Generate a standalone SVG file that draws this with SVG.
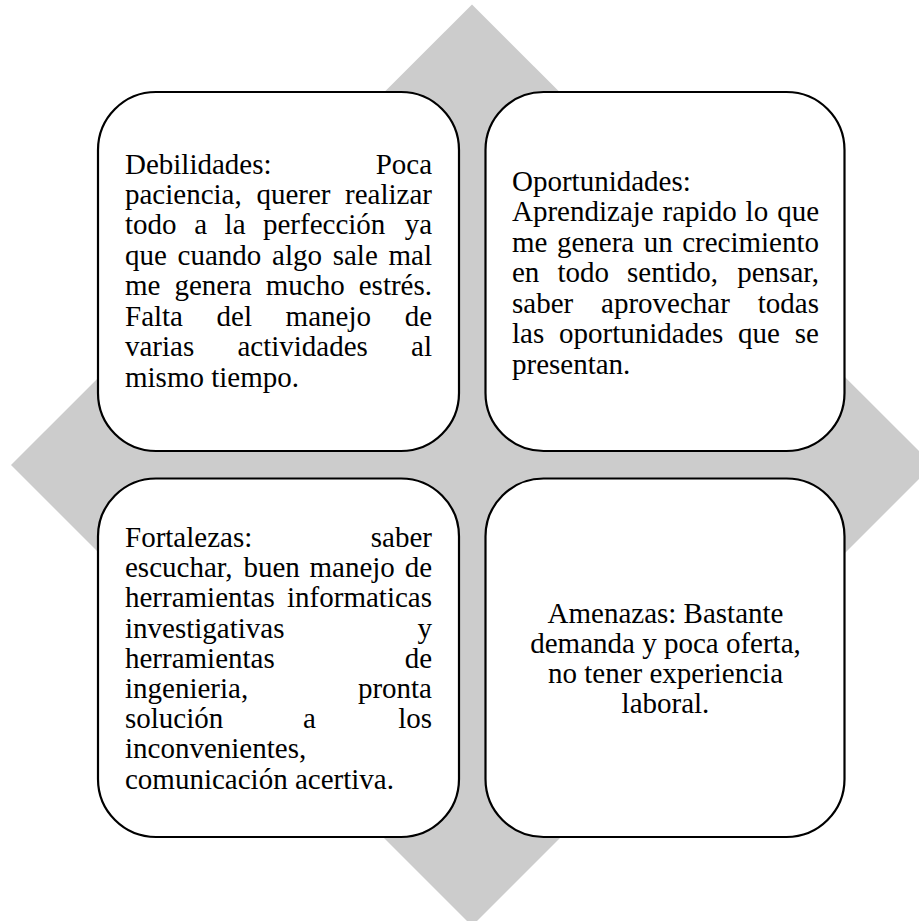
<svg xmlns="http://www.w3.org/2000/svg" width="919" height="921" viewBox="0 0 919 921">
<style>
.bg{fill:#ffffff}
.diamond{fill:#cccccc}
.box{fill:#ffffff;stroke:#000000;stroke-width:2.2}
.t{font-family:"Liberation Serif","Times New Roman",serif;font-size:29px;fill:#000000}
.e{text-anchor:end}
.c{text-anchor:middle}
</style>
<rect class="bg" x="0" y="0" width="919" height="921"/>
<polygon id="background-diamond" class="diamond" points="472,4.5 933,465 472,926 11,465"/>
<g id="connectors"></g>
<g id="debilidades">
<rect class="box" x="98" y="92" width="361" height="359" rx="58" ry="58"/>
<text class="t"><tspan x="125" y="173.5">Debilidades:</tspan><tspan class="e" x="432" y="173.5" text-anchor="end">Poca</tspan></text>
<text class="t"><tspan x="125" y="204">paciencia,</tspan><tspan x="256.4" y="204">querer</tspan><tspan x="432" y="204" text-anchor="end">realizar</tspan></text>
<text class="t"><tspan x="125" y="234.4">todo</tspan><tspan x="194.2" y="234.4">a</tspan><tspan x="224.6" y="234.4">la</tspan><tspan x="263" y="234.4">perfección</tspan><tspan x="432" y="234.4" text-anchor="end">ya</tspan></text>
<text class="t"><tspan x="125" y="264.9">que</tspan><tspan x="177.6" y="264.9">cuando</tspan><tspan x="272.1" y="264.9">algo</tspan><tspan x="332.7" y="264.9">sale</tspan><tspan x="432" y="264.9" text-anchor="end">mal</tspan></text>
<text class="t"><tspan x="125" y="295.3">me</tspan><tspan x="174.4" y="295.3">genera</tspan><tspan x="265.8" y="295.3">mucho</tspan><tspan x="432" y="295.3" text-anchor="end">estrés.</tspan></text>
<text class="t"><tspan x="125" y="325.8">Falta</tspan><tspan x="216.6" y="325.8">del</tspan><tspan x="285.6" y="325.8">manejo</tspan><tspan x="432" y="325.8" text-anchor="end">de</tspan></text>
<text class="t"><tspan x="125" y="356.2">varias</tspan><tspan x="237.4" y="356.2">actividades</tspan><tspan x="432" y="356.2" text-anchor="end">al</tspan></text>
<text class="t" x="125" y="386.7">mismo tiempo.</text>
</g>
<g id="oportunidades">
<rect class="box" x="485.5" y="92" width="359" height="359" rx="58" ry="58"/>
<text class="t" x="512" y="190.5">Oportunidades:</text>
<text class="t"><tspan x="512" y="221">Aprendizaje</tspan><tspan x="662.6" y="221">rapido</tspan><tspan x="745.6" y="221">lo</tspan><tspan x="819" y="221" text-anchor="end">que</tspan></text>
<text class="t"><tspan x="512" y="251.6">me</tspan><tspan x="556.9" y="251.6">genera</tspan><tspan x="643.7" y="251.6">un</tspan><tspan x="819" y="251.6" text-anchor="end">crecimiento</tspan></text>
<text class="t"><tspan x="512" y="282.1">en</tspan><tspan x="557.4" y="282.1">todo</tspan><tspan x="627" y="282.1">sentido,</tspan><tspan x="819" y="282.1" text-anchor="end">pensar,</tspan></text>
<text class="t"><tspan x="512" y="312.7">saber</tspan><tspan x="601.1" y="312.7">aprovechar</tspan><tspan x="819" y="312.7" text-anchor="end">todas</tspan></text>
<text class="t"><tspan x="512" y="343.2">las</tspan><tspan x="559" y="343.2">oportunidades</tspan><tspan x="738.1" y="343.2">que</tspan><tspan x="819" y="343.2" text-anchor="end">se</tspan></text>
<text class="t" x="512" y="373.8">presentan.</text>
</g>
<g id="fortalezas">
<rect class="box" x="98" y="478.5" width="361" height="358.5" rx="58" ry="58"/>
<text class="t"><tspan x="125" y="547">Fortalezas:</tspan><tspan x="432" y="547" text-anchor="end">saber</tspan></text>
<text class="t"><tspan x="125" y="577.2">escuchar,</tspan><tspan x="243.4" y="577.2">buen</tspan><tspan x="309.5" y="577.2">manejo</tspan><tspan x="432" y="577.2" text-anchor="end">de</tspan></text>
<text class="t"><tspan x="125" y="607.4">herramientas</tspan><tspan x="432" y="607.4" text-anchor="end">informaticas</tspan></text>
<text class="t"><tspan x="125" y="637.6">investigativas</tspan><tspan x="432" y="637.6" text-anchor="end">y</tspan></text>
<text class="t"><tspan x="125" y="667.8">herramientas</tspan><tspan x="432" y="667.8" text-anchor="end">de</tspan></text>
<text class="t"><tspan x="125" y="698">ingenieria,</tspan><tspan x="432" y="698" text-anchor="end">pronta</tspan></text>
<text class="t"><tspan x="125" y="728.2">solución</tspan><tspan x="303" y="728.2">a</tspan><tspan x="432" y="728.2" text-anchor="end">los</tspan></text>
<text class="t" x="125" y="758.4">inconvenientes,</text>
<text class="t" x="125" y="788.6">comunicación acertiva.</text>
</g>
<g id="amenazas">
<rect class="box" x="485.5" y="478.5" width="359" height="358.5" rx="58" ry="58"/>
<text class="t c" x="665.5" y="622.7" text-anchor="middle">Amenazas: Bastante</text>
<text class="t c" x="665.5" y="652.8" text-anchor="middle">demanda y poca oferta,</text>
<text class="t c" x="665.5" y="682.9" text-anchor="middle">no tener experiencia</text>
<text class="t c" x="665.5" y="713" text-anchor="middle">laboral.</text>
</g>
</svg>
